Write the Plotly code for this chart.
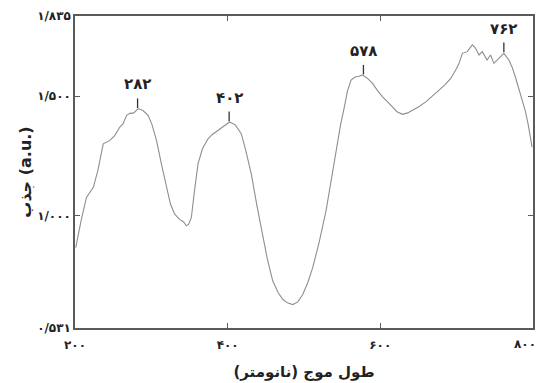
import plotly.graph_objects as go
import numpy as np

# Spectrum (wavelength nm, absorbance a.u.)
wavelength = [201, 208, 215, 224, 230, 237, 245.8, 252, 258.8, 263, 267.6, 272, 277, 282.8, 289, 295.8, 301,
              306.8, 313, 319.8, 325, 330.7, 337, 342, 346, 349, 352.5, 356, 361.2, 367, 374.3, 380, 387.3,
              395, 402.6, 410, 417.9, 424, 431, 438, 446.2, 452, 459.2, 466, 472.3, 479, 485.4, 492, 498.4,
              505, 511.5, 520, 529, 536, 542, 548, 553, 557, 561.7, 567, 572, 576.9, 583, 590, 596, 603, 610,
              616, 622, 629.2, 636, 642.2, 650, 659.7, 668, 677.1, 685, 692.4, 698.9, 703.3, 707.6, 714,
              720.7, 725, 729.4, 733.8, 740, 744.6, 749, 755.6, 762, 768.6, 773, 777, 781, 786, 790, 794, 799]
absorbance = [0.867, 0.98, 1.077, 1.119, 1.19, 1.301, 1.315, 1.335, 1.371, 1.385, 1.42, 1.428, 1.43, 1.448,
              1.44, 1.42, 1.38, 1.315, 1.22, 1.119, 1.05, 1.007, 0.985, 0.975, 0.958, 0.965, 0.993, 1.09,
              1.217, 1.28, 1.322, 1.34, 1.357, 1.372, 1.392, 1.38, 1.343, 1.27, 1.175, 1.05, 0.923, 0.82,
              0.727, 0.68, 0.65, 0.635, 0.629, 0.64, 0.671, 0.72, 0.783, 0.89, 1.021, 1.15, 1.273, 1.38, 1.455,
              1.52, 1.567, 1.58, 1.583, 1.588, 1.575, 1.553, 1.525, 1.497, 1.475, 1.455, 1.435, 1.424, 1.43,
              1.441, 1.455, 1.476, 1.498, 1.525, 1.548, 1.574, 1.609, 1.637, 1.679, 1.686, 1.714, 1.70, 1.672,
              1.686, 1.651, 1.672, 1.637, 1.658, 1.679, 1.651, 1.62, 1.581, 1.54, 1.483, 1.44, 1.38, 1.287]

peak_x = [282, 402, 578, 762]
peak_labels = ["۲۸۲", "۴۰۲", "۵۷۸", "۷۶۲"]

x_ticks = [200, 400, 600, 800]
x_ticktext = ["۲۰۰", "۴۰۰", "۶۰۰", "۸۰۰"]
y_ticks = [0.531, 1.0, 1.5, 1.835]
y_ticktext = ["۰/۵۳۱", "۱/۰۰۰", "۱/۵۰۰", "۱/۸۳۵"]

FONT = "DejaVu Sans"
frame = "#5a5a5a"
TXT = "#222222"

fig = go.Figure()
fig.add_trace(go.Scatter(x=wavelength, y=absorbance, mode="lines",
                         line=dict(color="#8e8e8e", width=1.1), hoverinfo="skip"))

peak_y = np.interp(peak_x, wavelength, absorbance)
for px_, py_, lab in zip(peak_x, peak_y, peak_labels):
    fig.add_shape(type="line", x0=px_, x1=px_, y0=py_ + 0.005, y1=py_ + 0.045,
                  line=dict(color="#333333", width=1.3))
    fig.add_annotation(x=px_, y=py_ + 0.045, yanchor="bottom", yshift=3, showarrow=False,
                       text="<b>" + lab + "</b>", font=dict(family=FONT, size=15, color=TXT))

axis_common = dict(showgrid=False, zeroline=False, showline=True, linecolor=frame, linewidth=1.5,
                   mirror="ticks", ticks="inside", ticklen=5, tickcolor=frame, tickwidth=1.2,
                   automargin=False,
                   tickfont=dict(family=FONT, size=12, color=TXT))

# last x tick label is placed as a right-aligned annotation so it stays inside the page
x_labels = ["<b>" + t + "</b>" for t in x_ticktext[:-1]] + [""]
fig.add_annotation(x=x_ticks[-1], xref="x", y=0, yref="paper", xanchor="right", yanchor="top",
                   xshift=5, yshift=-7, showarrow=False, text="<b>" + x_ticktext[-1] + "</b>",
                   font=dict(family=FONT, size=12, color=TXT))

fig.update_xaxes(range=[200, 800.2], tickvals=x_ticks, ticktext=x_labels, ticklabelstandoff=5,
                 title=dict(text="<b>طول موج (نانومتر)\u200f</b>", font=dict(family=FONT, size=15, color=TXT)),
                 **axis_common)
fig.update_yaxes(range=[0.531, 1.835], tickvals=y_ticks,
                 ticktext=["<b>" + t + "</b>" for t in y_ticktext],
                 title=dict(text="<b>جذب (a.u.)</b>", font=dict(family=FONT, size=16, color=TXT),
                            standoff=2),
                 **axis_common)

fig.update_layout(width=538, height=383, margin=dict(l=75, r=5, t=16, b=55),
                  paper_bgcolor="white", plot_bgcolor="white", showlegend=False)

fig.write_html("out.html", config={"displayModeBar": False},
               post_script="document.body.style.margin='0';document.body.style.overflow='hidden';")
